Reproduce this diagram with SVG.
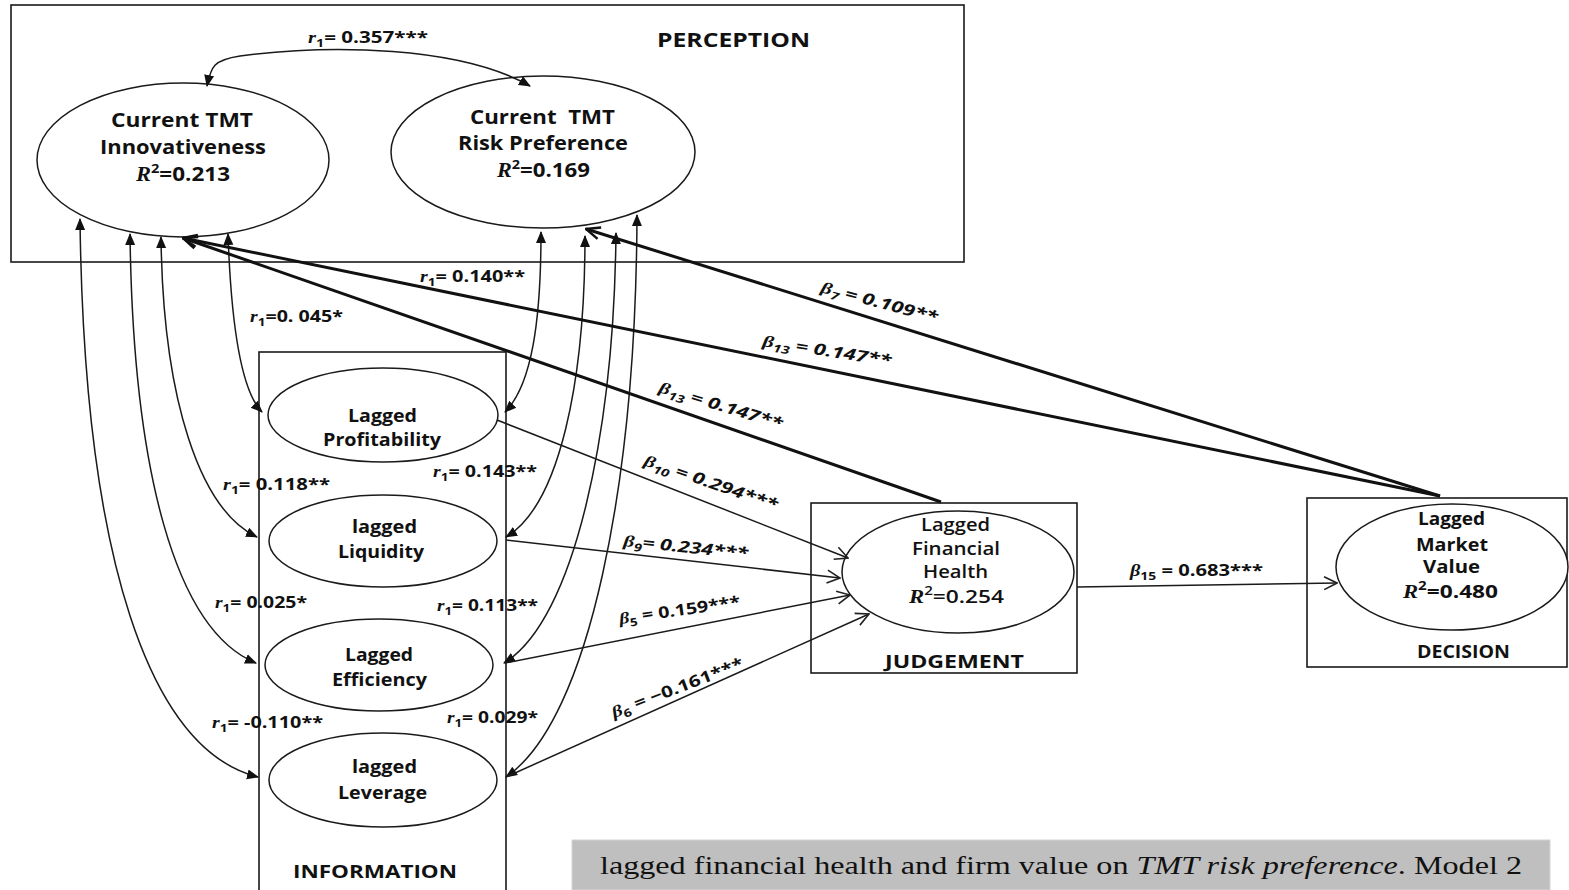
<svg xmlns="http://www.w3.org/2000/svg" width="1569" height="890" viewBox="0 0 1569 890">
  <style>
    .box { fill: none; stroke: #1a1a1a; stroke-width: 1.6; }
    .ell { fill: #fff; stroke: #1a1a1a; stroke-width: 1.5; }
    .arc { fill: none; stroke: #1a1a1a; stroke-width: 1.5; marker-start: url(#tri); marker-end: url(#tri); }
    .path { fill: none; stroke: #1a1a1a; stroke-width: 1.5; marker-end: url(#vee); }
    .thick { fill: none; stroke: #111; stroke-width: 3; marker-end: url(#veeB); }
    .t { font-family: "Open Sans", "Liberation Sans", sans-serif; font-weight: bold; fill: #111; }
    .n { font-family: "Open Sans", "Liberation Sans", sans-serif; font-weight: 600; fill: #111; }
    .m { font-family: "Liberation Serif", serif; font-style: italic; font-weight: bold; }
    .cap { font-family: "Liberation Serif", serif; fill: #111; }
  </style>
  <defs>
    <marker id="tri" viewBox="0 0 12 12" refX="11" refY="6" markerWidth="12" markerHeight="12" markerUnits="userSpaceOnUse" orient="auto-start-reverse">
      <path d="M0,1 L12,6 L0,11 Z" fill="#111"/>
    </marker>
    <marker id="vee" viewBox="0 0 14 14" refX="13" refY="7" markerWidth="15" markerHeight="15" markerUnits="userSpaceOnUse" orient="auto">
      <path d="M1,1 L13,7 L1,13" fill="none" stroke="#222" stroke-width="1.5"/>
    </marker>
    <marker id="veeB" viewBox="0 0 16 16" refX="15" refY="8" markerWidth="16" markerHeight="16" markerUnits="userSpaceOnUse" orient="auto">
      <path d="M1,2 L15,8 L1,14" fill="none" stroke="#111" stroke-width="2.5"/>
    </marker>
  </defs>

  <rect width="1569" height="890" fill="#fff"/>

  <!-- group boxes -->
  <g id="perception-box">
    <rect class="box" x="11" y="5" width="953" height="257"/>
    <text class="t" x="657" y="47" font-size="20" textLength="153" lengthAdjust="spacingAndGlyphs">PERCEPTION</text>
  </g>
  <g id="information-box">
    <rect class="box" x="259" y="352" width="247" height="545"/>
    <text class="t" x="293" y="878" font-size="18" textLength="164" lengthAdjust="spacingAndGlyphs">INFORMATION</text>
  </g>
  <g id="judgement-box">
    <rect class="box" x="811" y="503" width="266" height="170"/>
    <text class="t" x="885" y="668" font-size="18" textLength="139" lengthAdjust="spacingAndGlyphs">JUDGEMENT</text>
  </g>
  <g id="decision-box">
    <rect class="box" x="1307" y="498" width="260" height="169"/>
    <text class="t" x="1417" y="658" font-size="18" textLength="93" lengthAdjust="spacingAndGlyphs">DECISION</text>
  </g>

  <!-- nodes -->
  <g id="innovativeness">
    <ellipse class="ell" cx="183" cy="160" rx="146" ry="77"/>
    <text class="t" x="111" y="127" font-size="20" textLength="142" lengthAdjust="spacingAndGlyphs">Current TMT</text>
    <text class="t" x="100" y="154" font-size="20" textLength="166" lengthAdjust="spacingAndGlyphs">Innovativeness</text>
    <text class="t" x="136" y="181" font-size="20" textLength="94" lengthAdjust="spacingAndGlyphs"><tspan class="m">R</tspan><tspan font-size="13" dy="-8">2</tspan><tspan dy="8">=0.213</tspan></text>
  </g>
  <g id="risk-preference">
    <ellipse class="ell" cx="543" cy="152" rx="152" ry="76"/>
    <text class="t" x="470" y="124" font-size="20" textLength="145" lengthAdjust="spacingAndGlyphs" style="white-space:pre">Current  TMT</text>
    <text class="t" x="458" y="150" font-size="20" textLength="170" lengthAdjust="spacingAndGlyphs">Risk Preference</text>
    <text class="t" x="497" y="177" font-size="20" textLength="93" lengthAdjust="spacingAndGlyphs"><tspan class="m">R</tspan><tspan font-size="13" dy="-8">2</tspan><tspan dy="8">=0.169</tspan></text>
  </g>
  <g id="profitability">
    <ellipse class="ell" cx="383" cy="415" rx="115" ry="47"/>
    <text class="t" x="348" y="422" font-size="18" textLength="69" lengthAdjust="spacingAndGlyphs">Lagged</text>
    <text class="t" x="323" y="446" font-size="18" textLength="118" lengthAdjust="spacingAndGlyphs">Profitability</text>
  </g>
  <g id="liquidity">
    <ellipse class="ell" cx="383" cy="541" rx="114" ry="46"/>
    <text class="t" x="352" y="533" font-size="18" textLength="65" lengthAdjust="spacingAndGlyphs">lagged</text>
    <text class="t" x="338" y="558" font-size="18" textLength="86" lengthAdjust="spacingAndGlyphs">Liquidity</text>
  </g>
  <g id="efficiency">
    <ellipse class="ell" cx="379" cy="665" rx="114" ry="46"/>
    <text class="t" x="345" y="661" font-size="18" textLength="68" lengthAdjust="spacingAndGlyphs">Lagged</text>
    <text class="t" x="332" y="686" font-size="18" textLength="95" lengthAdjust="spacingAndGlyphs">Efficiency</text>
  </g>
  <g id="leverage">
    <ellipse class="ell" cx="383" cy="780" rx="114" ry="47"/>
    <text class="t" x="352" y="773" font-size="18" textLength="65" lengthAdjust="spacingAndGlyphs">lagged</text>
    <text class="t" x="338" y="799" font-size="18" textLength="89" lengthAdjust="spacingAndGlyphs">Leverage</text>
  </g>
  <g id="financial-health">
    <ellipse class="ell" cx="958" cy="572" rx="116" ry="61"/>
    <text class="n" x="921" y="531" font-size="18" textLength="69" lengthAdjust="spacingAndGlyphs">Lagged</text>
    <text class="n" x="912" y="555" font-size="18" textLength="88" lengthAdjust="spacingAndGlyphs">Financial</text>
    <text class="n" x="923" y="578" font-size="18" textLength="65" lengthAdjust="spacingAndGlyphs">Health</text>
    <text class="n" x="909" y="603" font-size="18" textLength="95" lengthAdjust="spacingAndGlyphs"><tspan class="m">R</tspan><tspan font-size="12" dy="-8">2</tspan><tspan dy="8">=0.254</tspan></text>
  </g>
  <g id="market-value">
    <ellipse class="ell" cx="1452" cy="567" rx="116" ry="63"/>
    <text class="t" x="1418" y="525" font-size="18" textLength="67" lengthAdjust="spacingAndGlyphs">Lagged</text>
    <text class="t" x="1416" y="551" font-size="18" textLength="72" lengthAdjust="spacingAndGlyphs">Market</text>
    <text class="t" x="1423" y="573" font-size="18" textLength="57" lengthAdjust="spacingAndGlyphs">Value</text>
    <text class="t" x="1403" y="598" font-size="18" textLength="95" lengthAdjust="spacingAndGlyphs"><tspan class="m">R</tspan><tspan font-size="12" dy="-8">2</tspan><tspan dy="8">=0.480</tspan></text>
  </g>

  <!-- connectors -->
  <g id="connectors">
    <!-- correlation between the two perception constructs -->
    <path class="arc" d="M207,86 C211,66 214,60 240,56 C330,44 460,46 530,86"/>
    <!-- correlations with innovativeness -->
    <path class="arc" d="M228,234 C231,320 240,390 262,412"/>
    <path class="arc" d="M161,237 C163,400 200,510 257,537"/>
    <path class="arc" d="M130,234 C133,470 175,630 256,663"/>
    <path class="arc" d="M80,219 C84,560 150,750 258,777"/>
    <!-- correlations with risk preference -->
    <path class="arc" d="M541,232 C541,320 532,385 505,412"/>
    <path class="arc" d="M585,236 C585,380 560,505 506,537"/>
    <path class="arc" d="M616,233 C614,430 575,620 504,663"/>
    <path class="arc" d="M637,215 C636,480 590,720 506,777"/>
    <!-- paths into financial health -->
    <path class="path" d="M497,420 L848,558"/>
    <path class="path" d="M506,540 L840,578"/>
    <path class="path" d="M505,663 L850,595"/>
    <path class="path" d="M506,777 L869,614"/>
    <!-- financial health to market value -->
    <path class="path" d="M1077,587 L1337,583"/>
    <!-- feedback paths into perception -->
    <path class="thick" d="M941,502 L183,238"/>
    <path class="thick" d="M1440,496 L183,238"/>
    <path class="thick" d="M1440,496 L586,229"/>
  </g>

  <!-- coefficient labels -->
  <g id="labels" class="t" font-size="16">
    <text x="308" y="43" textLength="120" lengthAdjust="spacingAndGlyphs"><tspan class="m">r</tspan><tspan font-size="11" dy="4">1</tspan><tspan dy="-4">= 0.357***</tspan></text>
    <text x="420" y="282" textLength="105" lengthAdjust="spacingAndGlyphs"><tspan class="m">r</tspan><tspan font-size="11" dy="4">1</tspan><tspan dy="-4">= 0.140**</tspan></text>
    <text x="250" y="322" textLength="93" lengthAdjust="spacingAndGlyphs" style="white-space:pre"><tspan class="m">r</tspan><tspan font-size="11" dy="4">1</tspan><tspan dy="-4">=0. 045*</tspan></text>
    <text x="433" y="477" textLength="104" lengthAdjust="spacingAndGlyphs"><tspan class="m">r</tspan><tspan font-size="11" dy="4">1</tspan><tspan dy="-4">= 0.143**</tspan></text>
    <text x="223" y="490" textLength="107" lengthAdjust="spacingAndGlyphs"><tspan class="m">r</tspan><tspan font-size="11" dy="4">1</tspan><tspan dy="-4">= 0.118**</tspan></text>
    <text x="215" y="608" textLength="92" lengthAdjust="spacingAndGlyphs"><tspan class="m">r</tspan><tspan font-size="11" dy="4">1</tspan><tspan dy="-4">= 0.025*</tspan></text>
    <text x="437" y="611" textLength="101" lengthAdjust="spacingAndGlyphs"><tspan class="m">r</tspan><tspan font-size="11" dy="4">1</tspan><tspan dy="-4">= 0.113**</tspan></text>
    <text x="212" y="728" textLength="111" lengthAdjust="spacingAndGlyphs"><tspan class="m">r</tspan><tspan font-size="11" dy="4">1</tspan><tspan dy="-4">= -0.110**</tspan></text>
    <text x="447" y="723" textLength="91" lengthAdjust="spacingAndGlyphs"><tspan class="m">r</tspan><tspan font-size="11" dy="4">1</tspan><tspan dy="-4">= 0.029*</tspan></text>

    <text x="643" y="465" transform="rotate(19 643 465)" textLength="140" lengthAdjust="spacingAndGlyphs" font-style="italic"><tspan class="m">β</tspan><tspan font-size="11" dy="4">10</tspan><tspan dy="-4"> = 0.294***</tspan></text>
    <text x="623" y="546" transform="rotate(6 623 546)" textLength="125" lengthAdjust="spacingAndGlyphs" font-style="italic"><tspan class="m">β</tspan><tspan font-size="11" dy="4">9</tspan><tspan dy="-4">= 0.234***</tspan></text>
    <text x="620" y="624" transform="rotate(-8 620 624)" textLength="122" lengthAdjust="spacingAndGlyphs"><tspan class="m">β</tspan><tspan font-size="11" dy="4">5</tspan><tspan dy="-4"> = 0.159***</tspan></text>
    <text x="614" y="718" transform="rotate(-21 614 718)" textLength="140" lengthAdjust="spacingAndGlyphs"><tspan class="m">β</tspan><tspan font-size="11" dy="4">6</tspan><tspan dy="-4"> = −0.161***</tspan></text>
    <text x="658" y="392" transform="rotate(17 658 392)" textLength="128" lengthAdjust="spacingAndGlyphs" font-style="italic"><tspan class="m">β</tspan><tspan font-size="11" dy="4">13</tspan><tspan dy="-4"> = 0.147**</tspan></text>
    <text x="762" y="346" transform="rotate(9 762 346)" textLength="130" lengthAdjust="spacingAndGlyphs" font-style="italic"><tspan class="m">β</tspan><tspan font-size="11" dy="4">13</tspan><tspan dy="-4"> = 0.147**</tspan></text>
    <text x="820" y="292" transform="rotate(15 820 292)" textLength="120" lengthAdjust="spacingAndGlyphs" font-style="italic"><tspan class="m">β</tspan><tspan font-size="11" dy="4">7</tspan><tspan dy="-4"> = 0.109**</tspan></text>
    <text x="1130" y="576" textLength="133" lengthAdjust="spacingAndGlyphs"><tspan class="m">β</tspan><tspan font-size="11" dy="4">15</tspan><tspan dy="-4"> = 0.683***</tspan></text>
  </g>

  <!-- caption strip -->
  <g id="caption">
    <rect x="572" y="840" width="978" height="50" fill="#bfbfbf" stroke="#d4d4d4" stroke-width="1"/>
    <text class="cap" x="600" y="874" font-size="25" textLength="922" lengthAdjust="spacingAndGlyphs">lagged financial health and firm value on <tspan font-style="italic">TMT risk preference</tspan>. Model 2</text>
  </g>
</svg>
